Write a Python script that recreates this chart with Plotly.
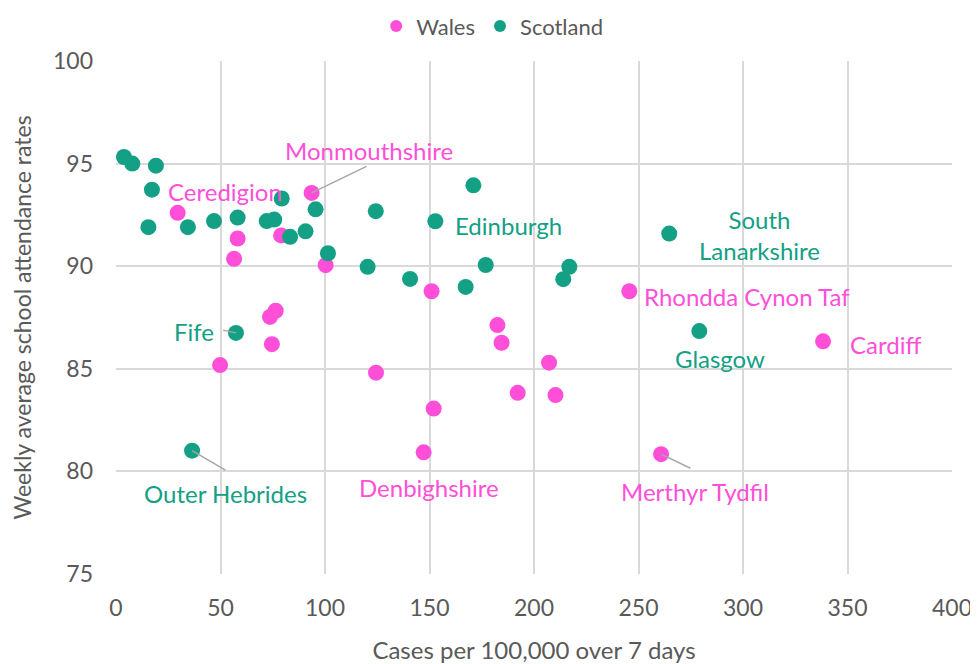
import plotly.graph_objects as go

wales_cases = [29.5, 93.6, 58.2, 56.5, 79.0, 100.3, 76.4, 73.7, 74.6, 49.8, 124.4,
               182.5, 184.5, 207.2, 192.2, 210.3, 152.0, 147.2, 151.0, 245.6, 338.3, 260.8]
wales_attendance = [92.6, 93.57, 91.35, 90.36, 91.5, 90.05, 87.83, 87.53, 86.2, 85.18, 84.81,
                    87.13, 86.27, 85.3, 83.83, 83.72, 83.06, 80.93, 88.78, 88.78, 86.34, 80.84]

scot_cases = [3.8, 7.8, 19.1, 17.2, 15.5, 34.4, 46.9, 58.2, 72.1, 75.7, 79.3, 83.3, 90.7,
              95.5, 101.4, 57.4, 171.0, 124.3, 152.8, 120.4, 140.7, 167.3, 176.9, 216.9,
              214.0, 264.7, 279.1, 36.4]
scot_attendance = [95.32, 95.0, 94.9, 93.73, 91.9, 91.9, 92.2, 92.37, 92.2, 92.27, 93.3, 91.43,
                   91.7, 92.77, 90.63, 86.75, 93.94, 92.68, 92.19, 89.97, 89.38, 88.99, 90.06,
                   89.97, 89.37, 91.59, 86.84, 81.01]

PINK = '#FF4FD8'
TEAL = '#13A085'
FONT = 'Lato, Open Sans, sans-serif'

fig = go.Figure()
fig.add_trace(go.Scatter(x=wales_cases, y=wales_attendance, mode='markers', name='Wales',
                         marker=dict(color=PINK, size=16)))
fig.add_trace(go.Scatter(x=scot_cases, y=scot_attendance, mode='markers', name='Scotland',
                         marker=dict(color=TEAL, size=16)))

# labels: (text, x, y, colour)
labels = [
    ('Monmouthshire', 121, 95.64, PINK),
    ('Ceredigion', 52.2, 93.65, PINK),
    ('Edinburgh', 187.6, 92.0, TEAL),
    ('South<br>Lanarkshire', 307.7, 91.5, TEAL),
    ('Rhondda Cynon Taf', 301.9, 88.5, PINK),
    ('Glasgow', 289, 85.52, TEAL),
    ('Cardiff', 368.4, 86.2, PINK),
    ('Fife', 37.3, 86.8, TEAL),
    ('Outer Hebrides', 52.2, 78.9, TEAL),
    ('Denbighshire', 149.8, 79.2, PINK),
    ('Merthyr Tydfil', 277, 79.0, PINK),
]
for text, x, y, col in labels:
    fig.add_annotation(x=x, y=y, text=text, showarrow=False,
                       font=dict(family=FONT, size=24, color=col))

# leader lines from a point to its label
leaders = [
    (wales_cases[1], wales_attendance[1], 120.6, 94.9),
    (scot_cases[15], scot_attendance[15], 50.5, 86.9),
    (scot_cases[27], scot_attendance[27], 53.1, 80.02),
    (wales_cases[21], wales_attendance[21], 275.6, 80.12),
]
for px, py, lx, ly in leaders:
    fig.add_annotation(x=px, y=py, ax=lx, ay=ly, axref='x', ayref='y', xref='x', yref='y',
                       showarrow=True, arrowhead=0, arrowwidth=1.5, arrowcolor='#A6A6A6',
                       text='')

# page body has an 8px margin, so the figure is drawn 8px smaller and offset
fig.update_layout(
    width=970, height=656,
    margin=dict(l=108, r=26, t=53, b=90, autoexpand=False),
    plot_bgcolor='white', paper_bgcolor='white',
    font=dict(family=FONT, size=23, color='#595959'),
    legend=dict(orientation='h', x=0.45, xanchor='center', y=1.068, yanchor='middle',
                font=dict(size=22, color='#595959'), itemsizing='constant', itemwidth=30),
    xaxis=dict(range=[0, 400], dtick=50, showgrid=True, gridcolor='#D9D9D9', gridwidth=1.5,
               zeroline=False, showline=False, ticks='', tickfont=dict(size=23),
               automargin=False, ticklabelstandoff=18,
               title=dict(text='Cases per 100,000 over 7 days', font=dict(size=24), standoff=24)),
    yaxis=dict(range=[75, 100], dtick=5, showgrid=True, gridcolor='#D9D9D9', gridwidth=1.5,
               zeroline=False, showline=False, ticks='', tickfont=dict(size=23),
               automargin=False, ticklabelstandoff=22,
               title=dict(text='Weekly average school attendance rates', font=dict(size=23),
                          standoff=16)),
)

fig.write_html('out.html')
